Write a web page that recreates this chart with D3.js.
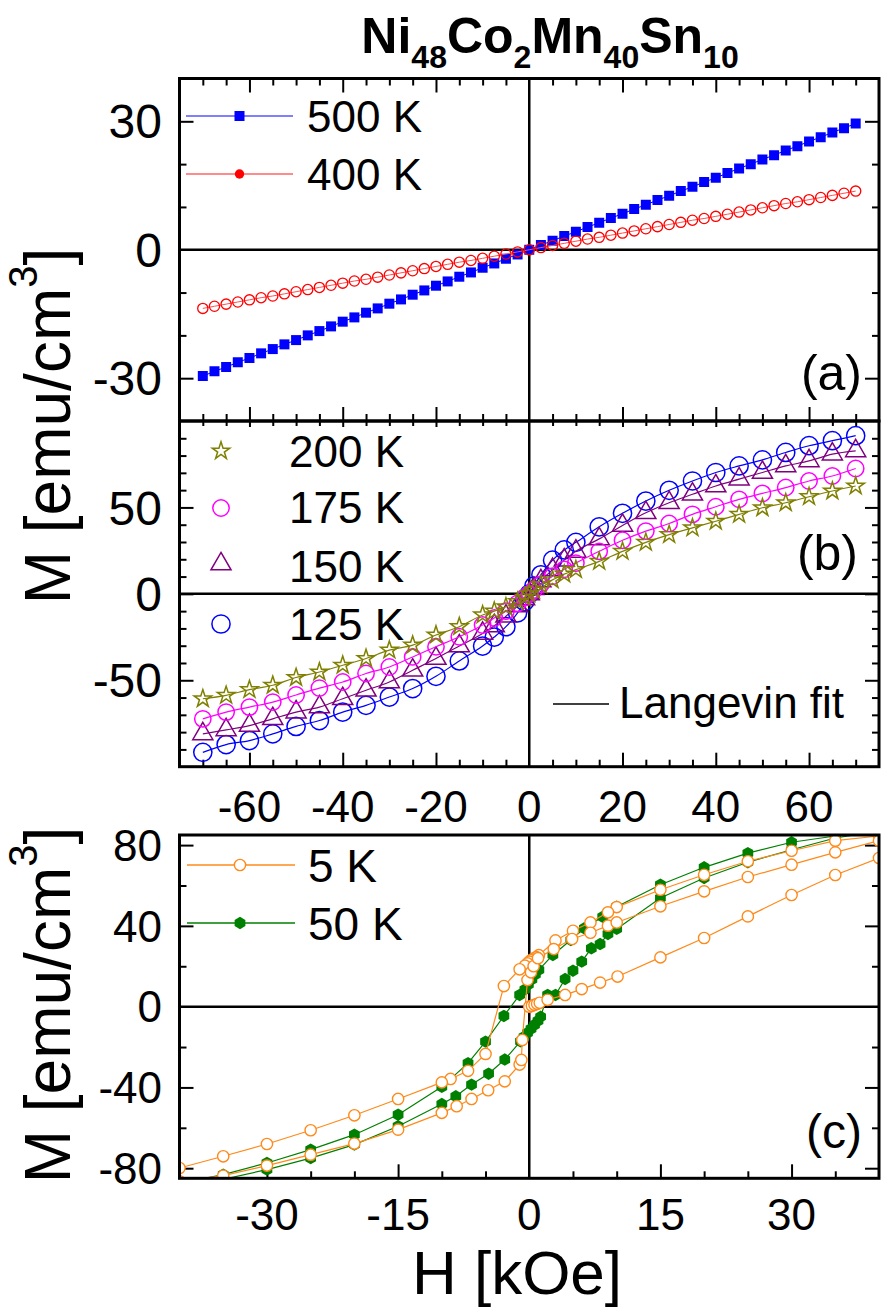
<!DOCTYPE html>
<html>
<head>
<meta charset="utf-8">
<script src="https://cdn.jsdelivr.net/npm/d3@7"></script>
<style>
  body { margin: 0; background: #ffffff; }
  svg { display: block; font-family: Arial, "Liberation Sans", sans-serif; }
</style>
</head>
<body>
<svg id="chart" width="881" height="1309"></svg>
<script>
// ---- panel (a): linear M(H) above the transition ----
const fieldA = [-70, -67.5, -65, -62.5, -60, -57.5, -55, -52.5, -50, -47.5, -45, -42.5, -40, -37.5,
  -35, -32.5, -30, -27.5, -25, -22.5, -20, -17.5, -15, -12.5, -10, -7.5, -5, -2.5, 0,
  2.5, 5, 7.5, 10, 12.5, 15, 17.5, 20, 22.5, 25, 27.5, 30, 32.5, 35, 37.5,
  40, 42.5, 45, 47.5, 50, 52.5, 55, 57.5, 60, 62.5, 65, 67.5, 70];
const m500K = [-29.5, -28.4, -27.4, -26.3, -25.3, -24.2, -23.2, -22.1, -21.1, -20.0, -19.0, -17.9, -16.8, -15.8,
  -14.7, -13.7, -12.6, -11.6, -10.5, -9.5, -8.4, -7.4, -6.3, -5.3, -4.2, -3.2, -2.1, -1.1, 0,
  1.1, 2.1, 3.2, 4.2, 5.3, 6.3, 7.4, 8.4, 9.5, 10.5, 11.6, 12.6, 13.7, 14.7, 15.8,
  16.8, 17.9, 19.0, 20.0, 21.1, 22.1, 23.2, 24.2, 25.3, 26.3, 27.4, 28.4, 29.5];
const m400K = [-13.7, -13.2, -12.7, -12.2, -11.7, -11.2, -10.8, -10.3, -9.8, -9.3, -8.8, -8.3, -7.8, -7.3,
  -6.9, -6.4, -5.9, -5.4, -4.9, -4.4, -3.9, -3.4, -2.9, -2.5, -2.0, -1.5, -1.0, -0.5, 0,
  0.5, 1.0, 1.5, 2.0, 2.5, 2.9, 3.4, 3.9, 4.4, 4.9, 5.4, 5.9, 6.4, 6.9, 7.3,
  7.8, 8.3, 8.8, 9.3, 9.8, 10.3, 10.8, 11.2, 11.7, 12.2, 12.7, 13.2, 13.7];

// ---- panel (b): Langevin-like curves ----
const fieldB = [-70, -65, -60, -55, -50, -45, -40, -35, -30, -25, -20, -15, -10,
  -7.5, -5, -2.5, -1, 0, 1, 2.5, 5, 7.5,
  10, 15, 20, 25, 30, 35, 40, 45, 50, 55, 60, 65, 70];
const m200K = [-60.7, -58.7, -55.4, -52.9, -48.4, -45.2, -41.3, -37.4, -32.6, -29.7, -23.8, -19.0, -12.2,
  -10.0, -7.5, -4.5, -2.0, 0, 2.2, 5.2, 8.1, 11.4,
  14.0, 18.8, 24.6, 29.8, 34.3, 38.2, 42.0, 46.0, 49.8, 52.7, 56.2, 59.5, 62.4];
const m175K = [-72.3, -68.4, -65.5, -62.6, -58.5, -54.5, -51.0, -46.1, -42.3, -36.5, -30.6, -24.8, -18.0,
  -14.0, -10.0, -5.5, -2.2, 0, 2.2, 5.5, 10.2, 14.2,
  17.8, 24.6, 31.0, 36.3, 40.7, 46.0, 50.4, 54.7, 58.1, 61.5, 65.3, 68.2, 72.5];
const m150K = [-81.0, -78.7, -76.2, -72.3, -68.4, -65.5, -60.7, -55.8, -51.0, -44.2, -37.4, -30.2, -22.9,
  -18.5, -13.0, -7.0, -3.0, 0, 3.0, 7.5, 14.0, 19.5,
  24.6, 31.8, 39.6, 46.9, 52.7, 57.6, 62.4, 66.4, 70.2, 74.0, 76.9, 80.8, 82.7];
const m125K = [-91.7, -87.2, -84.9, -81.0, -76.7, -73.3, -68.4, -64.5, -59.7, -54.8, -47.7, -38.8, -30.2,
  -25.0, -19.0, -11.0, -4.5, 0, 4.5, 11.0, 19.5, 25.4,
  29.8, 38.8, 46.6, 53.7, 59.9, 65.3, 70.2, 74.0, 77.5, 81.8, 85.7, 88.6, 91.5];

// ---- panel (c): hysteresis loops, in measuring order (virgin, down, up) ----
const field5K = [0, 0.3, 0.6, 0.9, 1.2, 2.1, 4.1, 6, 8.1, 10.1, 15, 20, 25, 30, 35, 40, 45,
  45, 40, 35, 30, 25, 20, 15, 10, 9, 7, 5, 3, 1.1, 0.8, 0.5, 0.2, 0, -0.2, -0.5, -1.1, -2.9,
  -5, -7, -9, -10, -15, -20, -25, -30, -35, -40, -45,
  -45, -40, -35, -30, -25, -20, -15, -10, -8.3, -6.6, -4.7, -2.8, -1.1, -0.9, -0.8,
  -0.2, 0.2, 0.5, 1, 2.8, 4.9, 7, 9, 10, 15, 20, 25, 30, 35, 40, 45];
const m5K = [0, 0.4, 0.9, 1.4, 1.9, 3.4, 5.8, 8.7, 11.9, 14.9, 24.4, 34, 44.7, 55.3, 65.2, 73.6, 81,
  86.5, 84.5, 82.2, 77.2, 72, 65.3, 57.9, 49.3, 46.7, 41.7, 37.6, 32.8, 25.5, 24.6, 23.8, 23, 22.3, 21.4, 20.3, 18.5, 10.2,
  -23.4, -31.8, -35.8, -37.5, -45.7, -53.8, -61.2, -68, -74.1, -79.9, -85.5,
  -89, -86.5, -83.7, -78.7, -73.3, -67.8, -60.9, -52.6, -49.3, -45.7, -41.4, -37, -28.7, -26.4, -16.5,
  13.2, 17, 20, 24, 28.5, 33.5, 36.6, 40.1, 41.7, 49.7, 57.1, 64.2, 70.3, 76.4, 82.2, 86.5];
const field50K = [45, 40, 35, 30, 25, 20, 15, 10, 8.4, 6.3, 4.75, 2.7, 1.1, 0.7, 0.3, -0.1, -0.5, -1.1,
  -2.9, -5, -7, -10, -15, -20, -25, -30, -35, -40,
  -40, -35, -30, -25, -20, -15, -10, -8.4, -6.6, -4.65, -2.8, -1, -0.6, -0.2, 0.2, 0.6, 1, 1.3,
  2.1, 3, 4.1, 5, 6, 7.1, 8.1, 9, 10, 15, 20, 25, 30, 35, 40];
const m50K = [88, 86.5, 84.5, 81.4, 76, 69, 60.4, 49.5, 44.5, 38.8, 33, 25.6, 18.2, 16, 13.5, 11, 8.5, 5.8,
  -4.6, -17.3, -28, -39.7, -53.5, -63.4, -70.8, -77.4, -83.2, -87.5,
  -89, -85.5, -80.7, -75, -68.3, -59.2, -48.2, -44.4, -38.6, -33.2, -26.2, -17.2, -15, -13, -11, -9, -7, -5,
  5.8, 5.8, 13.7, 17.8, 22.3, 28.9, 31, 36, 38.5, 53.8, 63.7, 71.5, 77.7, 83.5, 87];

// ---- ticks and labels ----
const wideTicks = d3.range(-70, 71, 5);
const wideLabels = [-60, -40, -20, 0, 20, 40, 60];
const narrowTicks = d3.range(-35, 36, 5);
const narrowLabels = [-30, -15, 0, 15, 30];
const yTicksA = [-30, -20, -10, 10, 20, 30];
const yLabelsA = [-30, 0, 30];
const yTicksB = d3.range(-90, 91, 10);
const yLabelsB = [-50, 0, 50];
const yTicksC = [-80, -60, -40, -20, 20, 40, 60, 80];
const yLabelsC = [-80, -40, 0, 40, 80];

let svg = d3.select("#chart");
let defs = svg.append("defs");

let X_LEFT = 179.5;
let X_RIGHT = 879;

let xWide = d3.scaleLinear().domain([-75, 75]).range([X_LEFT, X_RIGHT]);
let xNarrow = d3.scaleLinear().domain([-40, 40]).range([X_LEFT, X_RIGHT]);
let yA = d3.scaleLinear().domain([-40, 40]).range([421, 78.5]);
let yB = d3.scaleLinear().domain([-100, 100]).range([766.7, 421]);
let yC = d3.scaleLinear().domain([-85, 85]).range([1178.3, 835]);

let symbolHexagon = {
  draw: function(context, size) {
    let r = Math.sqrt(size / (1.5 * Math.sqrt(3)));
    for (let i = 0; i < 6; i++) {
      let a = (Math.PI / 3) * i - Math.PI / 2;
      if (i === 0) {
        context.moveTo(r * Math.cos(a), r * Math.sin(a));
      } else {
        context.lineTo(r * Math.cos(a), r * Math.sin(a));
      }
    }
    context.closePath();
  }
};

function inwardTicks(axisFn, scale, values, len, transform) {
  svg
    .append("g")
    .attr("transform", transform)
    .call(axisFn(scale).tickValues(values).tickSize(-len).tickFormat(""))
    .call(function(g) {
      g.select(".domain").remove();
      g.selectAll("line").attr("stroke", "black").attr("stroke-width", 2);
    });
}

function drawPanel(id, x, y, xTicks, xMajor, yTicks, yMajor, topTicks, topLen) {
  let top = y.range()[1];
  let bottom = y.range()[0];

  defs
    .append("clipPath")
    .attr("id", "clip_" + id)
    .append("rect")
    .attr("x", X_LEFT)
    .attr("y", top)
    .attr("width", X_RIGHT - X_LEFT)
    .attr("height", bottom - top);

  let major = xTicks.filter(function(d) { return d % xMajor === 0 && d !== 0; });
  let minor = xTicks.filter(function(d) { return d % xMajor !== 0; });
  inwardTicks(d3.axisBottom, x, major, 14, "translate(0," + bottom + ")");
  inwardTicks(d3.axisBottom, x, minor, 7, "translate(0," + bottom + ")");
  if (topTicks) {
    inwardTicks(d3.axisTop, x, major, topLen[0], "translate(0," + top + ")");
    inwardTicks(d3.axisTop, x, minor, topLen[1], "translate(0," + top + ")");
  }

  let yMaj = yTicks.filter(function(d) { return d % yMajor === 0; });
  let yMin = yTicks.filter(function(d) { return d % yMajor !== 0; });
  inwardTicks(d3.axisLeft, y, yMaj, 14, "translate(" + X_LEFT + ",0)");
  inwardTicks(d3.axisLeft, y, yMin, 7, "translate(" + X_LEFT + ",0)");
  inwardTicks(d3.axisRight, y, yMaj, 14, "translate(" + X_RIGHT + ",0)");
  inwardTicks(d3.axisRight, y, yMin, 7, "translate(" + X_RIGHT + ",0)");

  // zero lines
  svg
    .append("line")
    .attr("x1", x(0)).attr("x2", x(0))
    .attr("y1", top).attr("y2", bottom)
    .attr("stroke", "black").attr("stroke-width", 2.5);
  svg
    .append("line")
    .attr("x1", X_LEFT).attr("x2", X_RIGHT)
    .attr("y1", y(0)).attr("y2", y(0))
    .attr("stroke", "black").attr("stroke-width", 2.5);

  return svg.append("g").attr("clip-path", "url(#clip_" + id + ")");
}

function drawFrame(y) {
  svg
    .append("rect")
    .attr("x", X_LEFT)
    .attr("y", y.range()[1])
    .attr("width", X_RIGHT - X_LEFT)
    .attr("height", y.range()[0] - y.range()[1])
    .attr("fill", "none")
    .attr("stroke", "black")
    .attr("stroke-width", 3);
}

function drawSeries(g, x, y, fields, moments, style) {
  let pts = fields.map(function(h, i) { return [h, moments[i]]; });
  if (style.line) {
    g.append("path")
      .datum(pts)
      .attr("d", d3.line()
        .x(function(d) { return x(d[0]); })
        .y(function(d) { return y(d[1]); })
        .curve(style.curve || d3.curveLinear))
      .attr("fill", "none")
      .attr("stroke", style.line)
      .attr("stroke-width", style.lineWidth || 1.2);
  }
  g.selectAll(null)
    .data(pts)
    .enter()
    .append("path")
    .attr("transform", function(d) { return "translate(" + x(d[0]) + "," + y(d[1]) + ")"; })
    .attr("d", d3.symbol().type(style.symbol).size(style.size))
    .attr("fill", style.fill)
    .attr("stroke", style.stroke || "none")
    .attr("stroke-width", style.strokeWidth || 1.5);
}

function legendMarker(cx, cy, style) {
  svg
    .append("path")
    .attr("transform", "translate(" + cx + "," + cy + ")")
    .attr("d", d3.symbol().type(style.symbol).size(style.size))
    .attr("fill", style.fill)
    .attr("stroke", style.stroke || "none")
    .attr("stroke-width", style.strokeWidth || 1.5);
}

function legendText(x, y, txt, size) {
  svg.append("text").attr("x", x).attr("y", y).attr("font-size", size).text(txt);
}

function yLabels(y, values, size) {
  svg
    .append("g")
    .selectAll("text")
    .data(values)
    .enter()
    .append("text")
    .attr("x", 162)
    .attr("y", function(d) { return y(d) + size * 0.358; })
    .attr("text-anchor", "end")
    .attr("font-size", size)
    .text(function(d) { return String(d); });
}

function xLabels(x, values, baseline, size) {
  svg
    .append("g")
    .selectAll("text")
    .data(values)
    .enter()
    .append("text")
    .attr("x", function(d) { return x(d); })
    .attr("y", baseline)
    .attr("text-anchor", "middle")
    .attr("font-size", size)
    .text(function(d) { return String(d); });
}

// ---- styles ----
let s500 = { symbol: d3.symbolSquare, size: 100, fill: "#0000ff", line: "#0000ff", lineWidth: 1 };
let s400 = { symbol: d3.symbolCircle, size: 82, fill: "none", stroke: "#ff0000", strokeWidth: 1.3, line: "#ff5050", lineWidth: 1 };
let s125 = { symbol: d3.symbolCircle, size: 260, fill: "none", stroke: "#0000ff", line: "#0000ff", curve: d3.curveMonotoneX };
let s150 = { symbol: d3.symbolTriangle, size: 175, fill: "none", stroke: "#800080", line: "#800080", curve: d3.curveMonotoneX };
let s175 = { symbol: d3.symbolCircle, size: 210, fill: "none", stroke: "#ff00ff", line: "#ff00ff", curve: d3.curveMonotoneX };
let s200 = { symbol: d3.symbolStar, size: 95, fill: "none", stroke: "#808000", line: "#808000", curve: d3.curveMonotoneX };
let s5 = { symbol: d3.symbolCircle, size: 100, fill: "#ffffff", stroke: "#ff8a1a", strokeWidth: 1.4, line: "#ff8a1a", lineWidth: 1.2 };
let s50 = { symbol: symbolHexagon, size: 100, fill: "#008000", line: "#008000", lineWidth: 1.2 };

// ---- panel (a) ----
let gA = drawPanel("a", xWide, yA, wideTicks, 20, yTicksA, 30, true, [14, 7]);
drawSeries(gA, xWide, yA, fieldA, m500K, s500);
drawSeries(gA, xWide, yA, fieldA, m400K, s400);
drawFrame(yA);

// ---- panel (b) ----
let gB = drawPanel("b", xWide, yB, wideTicks, 20, yTicksB, 50, true, [6, 5]);
drawSeries(gB, xWide, yB, fieldB, m125K, s125);
drawSeries(gB, xWide, yB, fieldB, m150K, s150);
drawSeries(gB, xWide, yB, fieldB, m175K, s175);
drawSeries(gB, xWide, yB, fieldB, m200K, s200);
drawFrame(yB);

// ---- panel (c) ----
let gC = drawPanel("c", xNarrow, yC, narrowTicks, 15, yTicksC, 40, false);
drawSeries(gC, xNarrow, yC, field50K, m50K, s50);
drawSeries(gC, xNarrow, yC, field5K, m5K, s5);
drawFrame(yC);

// ---- tick labels ----
yLabels(yA, yLabelsA, 48);
yLabels(yB, yLabelsB, 48);
yLabels(yC, yLabelsC, 44);
xLabels(xWide, wideLabels, 822, 44);
xLabels(xNarrow, narrowLabels, 1230, 44);

// ---- legends ----
svg.append("line").attr("x1", 186).attr("x2", 293).attr("y1", 116).attr("y2", 116)
  .attr("stroke", "#0000ff").attr("stroke-width", 1.2);
legendMarker(239.5, 116, s500);
legendText(307, 132, "500 K", 44);
svg.append("line").attr("x1", 186).attr("x2", 293).attr("y1", 174).attr("y2", 174)
  .attr("stroke", "#ff6666").attr("stroke-width", 1.5);
legendMarker(239.5, 174, { symbol: d3.symbolCircle, size: 70, fill: "#ff0000" });
legendText(307, 190, "400 K", 44);

legendMarker(221, 451, s200);
legendText(289, 467, "200 K", 44);
legendMarker(221, 508, s175);
legendText(289, 523, "175 K", 44);
legendMarker(221, 564, s150);
legendText(289, 582, "150 K", 44);
legendMarker(221, 624, s125);
legendText(289, 640, "125 K", 44);
svg.append("line").attr("x1", 553).attr("x2", 609).attr("y1", 704).attr("y2", 704)
  .attr("stroke", "black").attr("stroke-width", 1.5);
legendText(619, 718, "Langevin fit", 44);

svg.append("line").attr("x1", 187).attr("x2", 295).attr("y1", 865).attr("y2", 865)
  .attr("stroke", "#ff8a1a").attr("stroke-width", 1.5);
legendMarker(240, 865, s5);
legendText(308, 882, "5 K", 46);
svg.append("line").attr("x1", 187).attr("x2", 295).attr("y1", 923).attr("y2", 923)
  .attr("stroke", "#008000").attr("stroke-width", 1.5);
legendMarker(240, 923, s50);
legendText(308, 940, "50 K", 46);

// ---- panel letters ----
svg.append("text").attr("x", 862).attr("y", 390).attr("text-anchor", "end").attr("font-size", 50).text("(a)");
svg.append("text").attr("x", 858).attr("y", 570).attr("text-anchor", "end").attr("font-size", 50).text("(b)");
svg.append("text").attr("x", 862).attr("y", 1148).attr("text-anchor", "end").attr("font-size", 48).text("(c)");

// ---- axis titles ----
function mLabel(cy) {
  let t = svg
    .append("text")
    .attr("transform", "translate(70," + cy + ") rotate(-90)")
    .attr("text-anchor", "middle")
    .attr("font-size", 64);
  t.append("tspan").text("M [emu/cm");
  t.append("tspan").attr("font-size", 40).attr("dy", -33).text("3");
  t.append("tspan").attr("dy", 33).text("]");
}
mLabel(426);
mLabel(1005);

svg.append("text").attr("x", 517).attr("y", 1294).attr("text-anchor", "middle")
  .attr("font-size", 62).text("H [kOe]");

// ---- title ----
let title = svg.append("text").attr("x", 550).attr("y", 53).attr("text-anchor", "middle")
  .attr("font-weight", "bold").attr("font-size", 50);
let parts = [["Ni", "48"], ["Co", "2"], ["Mn", "40"], ["Sn", "10"]];
parts.forEach(function(p, i) {
  title.append("tspan").attr("dy", i === 0 ? 0 : -15).text(p[0]);
  title.append("tspan").attr("dy", 15).attr("font-size", 32).text(p[1]);
});
</script>
</body>
</html>
